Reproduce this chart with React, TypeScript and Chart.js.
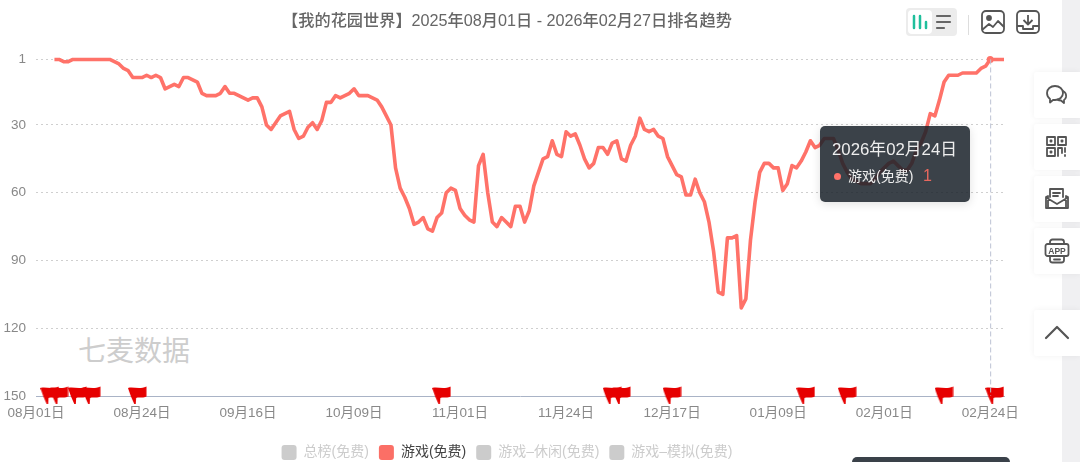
import React, { useEffect, useRef } from "react";
import { Chart, registerables } from "chart.js";

Chart.register(...registerables);

const FONT = '"Liberation Sans", "Noto Sans CJK SC", sans-serif';

const monthNames = ["08", "09", "10", "11", "12", "01", "02"];
const monthDays = [31, 30, 31, 30, 31, 31, 27];
const dates: string[] = [];
monthNames.forEach((m, k) => {
  for (let d = 1; d <= monthDays[k]; d++) dates.push(`${m}月${String(d).padStart(2, "0")}日`);
});

// rank per day, the series only starts on 08/05
const ranks = [
  null, null, null, null, 1, 1, 2, 2, 1, 1, 1, 1, 1, 1, 1, 1, 1, 2, 3, 5, 6, 9, 9, 9, 8, 9, 8, 9, 14, 13,
  12, 13, 9, 9, 10, 11, 16, 17, 17, 17, 16, 13, 16, 16, 17, 18, 19, 18, 18, 22, 30, 32, 29, 26, 25, 24, 32, 36, 35, 31,
  29, 32, 28, 20, 20, 17, 18, 17, 16, 14, 17, 17, 17, 18, 19, 22, 26, 30, 49, 58, 62, 67, 74, 73, 71, 76, 77, 71, 69, 60,
  58, 59, 67, 70, 72, 73, 48, 43, 60, 73, 75, 71, 73, 75, 66, 66, 73, 68, 57, 51, 45, 44, 37, 43, 44, 33, 35, 34, 39, 45,
  49, 47, 40, 40, 43, 38, 37, 45, 46, 39, 35, 27, 32, 33, 32, 35, 36, 44, 48, 52, 53, 61, 61, 54, 60, 64, 73, 86, 104, 105,
  80, 80, 79, 111, 107, 81, 64, 51, 47, 47, 49, 49, 59, 56, 48, 49, 46, 42, 37, 40, 39, 36, 36, 36, 41, 47, 51, 54, 55, 56,
  56, 56, 54, 51, 49, 47, 46, 48, 50, 50, 47, 41, 38, 33, 25, 26, 19, 11, 8, 8, 8, 7, 7, 7, 7, 5, 4, 1, 1, 1,
  1,
];

const yTicks = [1, 30, 60, 90, 120, 150];
const flagDays = [3, 5, 9, 12, 22, 88, 125, 127, 138, 167, 176, 197, 208];
const hoverDay = 207;
const legendNames = ["总榜(免费)", "游戏(免费)", "游戏–休闲(免费)", "游戏–模拟(免费)"];
const activeLegend = "游戏(免费)";
const seriesName = activeLegend;

const LINE = "#ff7269";

function makeFlag() {
  const c = document.createElement("canvas");
  c.width = 19;
  c.height = 20;
  const g = c.getContext("2d") as CanvasRenderingContext2D;
  g.fillStyle = "#e60000";
  g.beginPath();
  g.moveTo(0, 2);
  g.bezierCurveTo(6, 0.5, 11, 4, 18.5, 0.5);
  g.lineTo(18.5, 10.5);
  g.bezierCurveTo(15, 12.5, 11, 10.5, 8.2, 12);
  g.lineTo(7.8, 18);
  g.lineTo(6.3, 18);
  g.lineTo(3, 10.5);
  g.closePath();
  g.fill();
  return c;
}

const crosshair = {
  id: "crosshair",
  afterDatasetsDraw(chart: any) {
    const { ctx, chartArea, scales } = chart;
    const x = scales.x.getPixelForValue(hoverDay);
    ctx.save();
    ctx.strokeStyle = "#bcc2d4";
    ctx.setLineDash([5, 3]);
    ctx.beginPath();
    ctx.moveTo(x + 0.5, chartArea.top);
    ctx.lineTo(x + 0.5, chartArea.bottom);
    ctx.stroke();
    ctx.restore();
  },
};

const abs = (left: number, top: number, width: number, height: number): React.CSSProperties => ({
  position: "absolute",
  left,
  top,
  width,
  height,
});

const ICON = { fill: "none", stroke: "#555", strokeWidth: 1.8, strokeLinejoin: "round", strokeLinecap: "round" } as any;

const sideIcons = [
  <g {...ICON}>
    <path d="M3 11c0-4 3.500-7 8-7s8 3 8 7-3.500 7-8 7H9l-3 2.500V17c-2-1.500-3-3.500-3-6z" />
    <path d="M19 9c2 1 3.500 3 3 6-.3 1.500-1 2.500-2 3v3l-3-2.500c-1.500 0-2.500-.2-3.500-1" />
  </g>,
  <g {...ICON}>
    <rect x="3" y="3" width="8" height="8" />
    <rect x="14" y="3" width="8" height="8" />
    <rect x="3" y="14" width="8" height="8" />
    <path d="M14 22v-8h4v5M21 14v4M21 21v1" />
    <rect x="6.500" y="6.500" width="1" height="1" />
    <rect x="17.500" y="6.500" width="1" height="1" />
    <rect x="6.500" y="17.500" width="1" height="1" />
  </g>,
  <g {...ICON}>
    <path d="M6 11V3h13v8" />
    <path d="M9 7h7M9 10h5" />
    <path d="M2 11l2-1v12h18V10l2 1v11H2zM3 12l10 6 10-6" />
  </g>,
  <g {...ICON}>
    <rect x="6" y="1.500" width="14" height="23" rx="2.500" />
    <rect x="1.500" y="6" width="23" height="12" rx="2" fill="#fff" />
    <path d="M10 21.500h6" />
    <text x="13" y="15.500" textAnchor="middle" fontSize="8.500" fontWeight="700" fontFamily={FONT} fill="#555" stroke="none">
      APP
    </text>
  </g>,
  <g {...ICON} strokeWidth={2.2}>
    <path d="M2 18L13 7l11 11" />
  </g>,
];
const sideTops = [72, 124, 176, 228, 310];

export default function App() {
  const canvasRef = useRef<HTMLCanvasElement>(null);

  useEffect(() => {
    if (!canvasRef.current) return;
    const ctx = canvasRef.current.getContext("2d") as CanvasRenderingContext2D;
    const flag = makeFlag();
    const chart = new Chart(ctx, {
      type: "line",
      data: {
        labels: dates,
        datasets: [
          {
            label: seriesName,
            data: ranks,
            borderColor: LINE,
            backgroundColor: LINE,
            borderWidth: 3.6,
            tension: 0,
            borderJoinStyle: "round",
            clip: false,
            pointRadius: (c: any) => (c.dataIndex === hoverDay ? 3.5 : 0),
            pointBorderWidth: 0,
          },
          {
            label: "flags",
            data: flagDays.map((d) => ({ x: dates[d], y: 150 })),
            showLine: false,
            clip: false,
            pointStyle: flag,
            pointRadius: 10,
          },
        ],
      } as any,
      plugins: [crosshair],
      options: {
        animation: false,
        responsive: false,
        layout: { autoPadding: false, padding: { right: 16, top: 12 } },
        plugins: {
          tooltip: { enabled: false },
          title: {
            display: true,
            text: "【我的花园世界】2025年08月01日 - 2026年02月27日排名趋势",
            color: "#666",
            font: { family: FONT, size: 16.2, weight: "500" },
            padding: { top: 0, bottom: 28 },
          },
          legend: {
            position: "bottom",
            onClick: () => {},
            labels: {
              font: { family: FONT, size: 14 },
              boxWidth: 15,
              boxHeight: 15,
              padding: 10,
              useBorderRadius: true,
              borderRadius: 3,
              generateLabels: () =>
                legendNames.map((name) => ({
                  text: name,
                  fillStyle: name === activeLegend ? "#fb6f66" : "#cccccc",
                  strokeStyle: "transparent",
                  lineWidth: 0,
                  fontColor: name === activeLegend ? "#444" : "#ccc",
                  borderRadius: 3,
                })),
            },
          },
        },
        scales: {
          x: {
            grid: { display: false },
            border: { display: true, color: "#a9b3c6", width: 1 },
            afterFit: (s: any) => {
              s.height = 39;
            },
            ticks: {
              autoSkip: false,
              maxRotation: 0,
              color: "#888",
              padding: 1,
              font: { family: FONT, size: 13.5 },
              callback: (_v: any, i: number) => (i % 23 === 0 ? dates[i] : ""),
            },
          },
          y: {
            reverse: true,
            min: 1,
            max: 150,
            afterBuildTicks: (s: any) => {
              s.ticks = yTicks.map((value) => ({ value }));
            },
            afterFit: (s: any) => {
              s.width = 36;
            },
            border: { display: false, dash: [2, 3] },
            grid: {
              color: (c: any) => (c.tick && c.tick.value === 150 ? "transparent" : "#cfcfcf"),
              drawTicks: false,
            },
            ticks: {
              color: "#888",
              padding: 10,
              font: { family: FONT, size: 13.5 },
            },
          },
          // empty axis: narrows the plot so the title and legend stay centred on x=507
          spacer: {
            type: "linear",
            display: true,
            position: "right",
            grid: { display: false },
            border: { display: false },
            ticks: { display: false },
            afterFit: (s: any) => {
              s.width = 10;
            },
          },
        },
      },
    } as any);

    return () => {
      chart.destroy();
    };
  }, []);

  return (
    <div style={{ position: "fixed", left: 0, top: 0, width: 1080, height: 462, overflow: "hidden", background: "#fff", fontFamily: FONT }}>
      <div style={{ ...abs(1062, 0, 18, 462), background: "#f0f0f2" }} />
      <div style={{ ...abs(78, 334, 120, 36), color: "#cdcdcd", fontSize: 28, lineHeight: "36px", whiteSpace: "nowrap" }}>七麦数据</div>
      <canvas ref={canvasRef} width={1030} height={470} style={{ ...abs(0, 0, 1030, 470), display: "block" }} />

      <svg style={abs(900, 0, 145, 42)} viewBox="900 0 145 42">
        <rect x="906" y="8" width="51" height="28" rx="4" fill="#ececec" />
        <rect x="908" y="10" width="24" height="24" rx="4" fill="#fff" />
        <g stroke="#1fbf9c" strokeWidth="2.500" strokeLinecap="round">
          <path d="M914 16v12M920 16v12M926 22v6" />
        </g>
        <g stroke="#666" strokeWidth="2.200" strokeLinecap="round">
          <path d="M937 16h13M937 22h13M937 28h7" />
        </g>
        <path d="M968.500 15v20" stroke="#ddd" strokeWidth="1" />
        <g fill="none" stroke="#555" strokeWidth="1.800" strokeLinejoin="round">
          <rect x="982" y="11" width="22" height="22" rx="4" />
          <circle cx="989" cy="18" r="2" fill="#555" />
          <path d="M982 30l7-6 4 3 5-6 6 6" />
          <rect x="1017" y="11" width="22" height="22" rx="4" />
          <path d="M1028 15v9M1023.500 20l4.500 4.500 4.500-4.500M1017 26h6v3h10v-3h6" />
        </g>
      </svg>

      {sideTops.map((top, i) => (
        <div key={top} style={{ ...abs(1034, top, 46, 46), background: "#fff", borderRadius: "3px 0 0 3px", boxShadow: "0 0 6px rgba(0,0,0,.06)" }}>
          <svg style={abs(10, 10, 26, 26)} viewBox="0 0 26 26">
            {sideIcons[i]}
          </svg>
        </div>
      ))}

      <div
        style={{
          ...abs(820, 126, 150, 76),
          background: "rgba(25,33,41,.85)",
          borderRadius: 5,
          boxShadow: "0 2px 10px rgba(0,0,0,.12)",
          color: "#eee",
        }}
      >
        <div style={{ position: "absolute", left: 12, top: 12, fontSize: 16.8, lineHeight: "24px", whiteSpace: "nowrap" }}>
          2026年{dates[hoverDay]}
        </div>
        <div style={{ ...abs(13.5, 46.5, 7, 7), borderRadius: 4, background: LINE }} />
        <div style={{ position: "absolute", left: 28, top: 40, fontSize: 14, lineHeight: "20px", whiteSpace: "nowrap" }}>{seriesName}</div>
        <div style={{ position: "absolute", left: 103, top: 38, fontSize: 16, lineHeight: "24px", color: "#e8685f" }}>{ranks[hoverDay]}</div>
      </div>

      <div style={{ ...abs(852, 457, 158, 10), background: "#3a4149", borderRadius: 6 }} />
    </div>
  );
}
